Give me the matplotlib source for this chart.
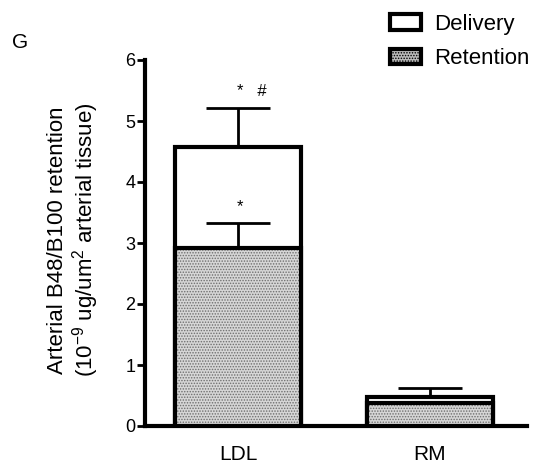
import matplotlib
matplotlib.use("Agg")
import matplotlib.pyplot as plt
from matplotlib.patches import Patch

plt.rcParams['font.family'] = ['Liberation Sans', 'DejaVu Sans']
plt.rcParams['mathtext.default'] = 'regular'
plt.rcParams['hatch.linewidth'] = 0.7

groups = ['LDL', 'RM']
delivery = [4.57, 0.48]
delivery_err = [0.64, 0.14]
retention = [2.92, 0.37]
retention_err = [0.41, 0.0]
marks_delivery = ['*   #', '']
marks_retention = ['*', '']

fig = plt.figure(figsize=(5.43, 4.71), dpi=100)
ax = fig.add_axes([145/543, 1-426/471, 382/543, 366/471])

x = list(range(len(groups)))
w = 0.66

ax.bar(x, delivery, w, facecolor='white', edgecolor='black', linewidth=3, zorder=2)
ax.bar(x, retention, w, facecolor='#d6d6d6', edgecolor='#6e6e6e', hatch='......',
       linewidth=0, zorder=3)
ax.bar(x, retention, w, fill=False, edgecolor='black', linewidth=3, zorder=4)

for xi, v, e in zip(x, delivery, delivery_err):
    ax.errorbar(xi, v, yerr=[[0], [e]], fmt='none', ecolor='black',
                elinewidth=2, capsize=23, capthick=2, zorder=1)
for xi, v, e in zip(x, retention, retention_err):
    if e > 0:
        ax.errorbar(xi, v, yerr=[[0], [e]], fmt='none', ecolor='black',
                    elinewidth=2, capsize=23, capthick=2, zorder=5)

for xi, v, e, m in zip(x, delivery, delivery_err, marks_delivery):
    if m:
        ax.text(xi + 0.07, v + e + 0.15, m, ha='center', va='bottom', fontsize=12)
for xi, v, e, m in zip(x, retention, retention_err, marks_retention):
    if m:
        ax.text(xi + 0.01, v + e + 0.15, m, ha='center', va='bottom', fontsize=12)

ax.set_xlim(-0.484, 1.505)
ax.set_ylim(0, 6)
ax.set_yticks(range(0, 7))
ax.set_xticks(x)
ax.set_xticklabels(groups, fontsize=15)
ax.tick_params(axis='x', length=0, pad=14)
ax.tick_params(axis='y', length=6, width=2, pad=1, labelsize=13)
for s in ['top', 'right']:
    ax.spines[s].set_visible(False)
for s in ['left', 'bottom']:
    ax.spines[s].set_linewidth(3)

fig.text(74/543, 1-240/471,
         'Arterial B48/B100 retention\n(10$^{-9}$ ug/um$^{2}$ arterial tissue)',
         rotation=90, ha='center', va='center', fontsize=16, linespacing=1.1)
fig.text(20/543, 1-43/471, 'G', ha='center', va='center', fontsize=15)

handles = [Patch(facecolor='white', edgecolor='black', linewidth=3),
           Patch(facecolor='#bbbbbb', edgecolor='black', linewidth=3, hatch='......')]
fig.legend(handles, ['Delivery', 'Retention'], loc='upper left',
           bbox_to_anchor=(370/543, 1 + 6/471), frameon=False, fontsize=16,
           handlelength=1.4, handleheight=0.7, labelspacing=0.6, handletextpad=0.6)

fig.savefig('out.png', dpi=100)
